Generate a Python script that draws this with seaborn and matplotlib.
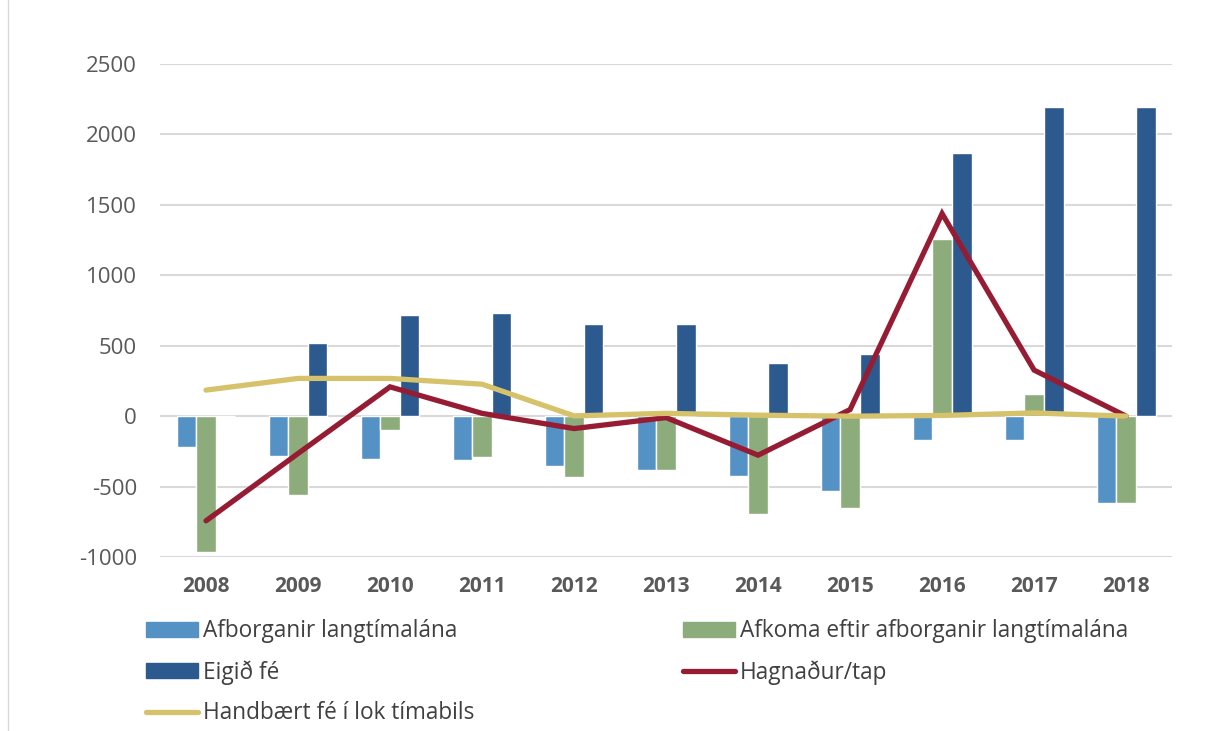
import numpy as np
import pandas as pd
import matplotlib
matplotlib.use("Agg")
import matplotlib.pyplot as plt
import seaborn as sns
from matplotlib.patches import Patch
from matplotlib.lines import Line2D

years = ["2008", "2009", "2010", "2011", "2012", "2013", "2014", "2015", "2016", "2017", "2018"]
afborganir = [-222, -284, -303, -308, -353, -383, -426, -533, -172, -167, -620]
afkoma = [-963, -559, -95, -289, -433, -379, -698, -649, 1260, 154, -620]
eigid_fe = [0, 516, 720, 736, 651, 652, 381, 440, 1870, 2192, 2195]
hagnadur = [-743, -265, 208, 20, -88, -10, -277, 47, 1438, 327, 0]
handbaert = [185, 268, 268, 227, 2, 20, 7, 0, 5, 23, 0]

bar_names = ["Afborganir langtímalána", "Afkoma eftir afborganir langtímalána", "Eigið fé"]
bar_colors = ["#5492C5", "#8DAC7C", "#2C598E"]
red = "#961C34"
yellow = "#D6C26A"

sns.set_style("white")
plt.rcParams["font.family"] = ["Open Sans", "DejaVu Sans"]
plt.rcParams["axes.unicode_minus"] = False

bars = pd.DataFrame({
    "year": years * 3,
    "value": afborganir + afkoma + eigid_fe,
    "series": [bar_names[0]] * 11 + [bar_names[1]] * 11 + [bar_names[2]] * 11,
})

fig = plt.figure(figsize=(12.15, 7.31), dpi=100)
ax = fig.add_axes([0.1317, 0.238, 0.833, 0.6744])

sns.barplot(data=bars, x="year", y="value", hue="series", palette=bar_colors,
            width=0.64, ax=ax, legend=False, saturation=1, zorder=2)

xs = np.arange(len(years))
sns.lineplot(x=xs, y=hagnadur, color=red, lw=3.8, ax=ax, zorder=3,
             solid_joinstyle="miter")
sns.lineplot(x=xs, y=handbaert, color=yellow, lw=3.8, ax=ax, zorder=4,
             solid_capstyle="round")

ax.set_ylim(-1000, 2500)
ax.set_xlim(-0.5, 10.5)
ax.set_yticks(range(-1000, 2501, 500))
ax.yaxis.grid(True, color="#D9D9D9", lw=1.5, zorder=0)
ax.set_axisbelow(True)
ax.set_xlabel("")
ax.set_ylabel("")
for s in ax.spines.values():
    s.set_visible(False)
ax.tick_params(axis="y", length=0, labelsize=16, labelcolor="#595959", pad=16.5)
ax.tick_params(axis="x", length=0, labelsize=15, labelcolor="#595959", pad=14)
for t in ax.get_xticklabels():
    t.set_fontweight("bold")

handles = [
    Patch(color=bar_colors[0], label=bar_names[0]),
    Patch(color=bar_colors[2], label=bar_names[2]),
    Line2D([], [], color=yellow, lw=3.8, solid_capstyle="round", label="Handbært fé í lok tímabils"),
    Patch(color=bar_colors[1], label=bar_names[1]),
    Line2D([], [], color=red, lw=3.8, solid_capstyle="round", label="Hagnaður/tap"),
]
fig.legend(handles=handles, ncol=2, loc="upper left", bbox_to_anchor=(0.120, 0.153),
           frameon=False, fontsize=16.3, labelcolor="#404040", handlelength=2.3,
           handleheight=0.62, handletextpad=0.22, columnspacing=9.2, labelspacing=0.74,
           borderaxespad=0, borderpad=0)

fig.add_artist(Line2D([8 / 1215, 8 / 1215], [0, 1], color="#D9D9D9", lw=1,
                      transform=fig.transFigure))

fig.savefig("out.png", dpi=100)
